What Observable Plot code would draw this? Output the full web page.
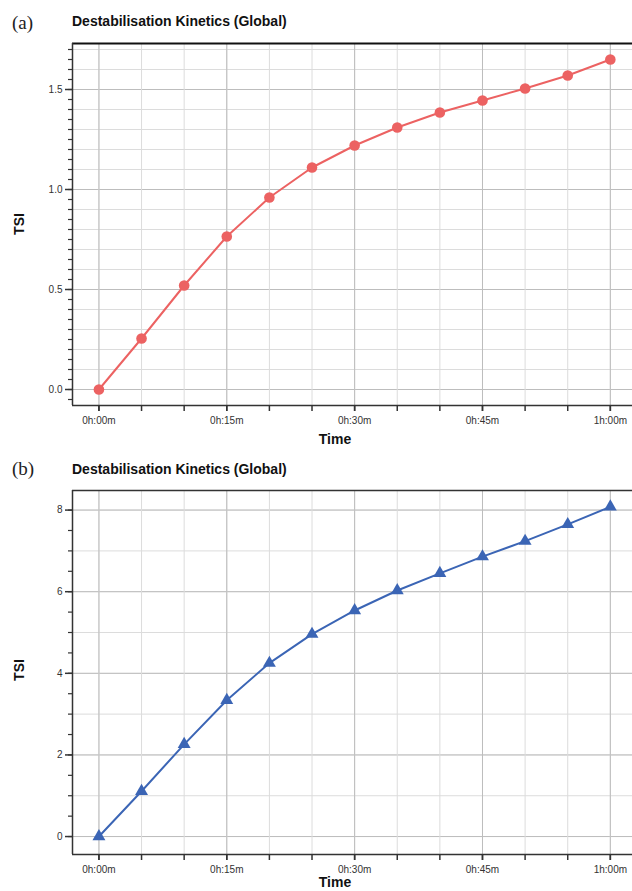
<!DOCTYPE html>
<html><head><meta charset="utf-8">
<script src="https://cdn.jsdelivr.net/npm/d3@7"></script>
<script src="https://cdn.jsdelivr.net/npm/@observablehq/plot@0.6"></script>
<style>
html,body{margin:0;padding:0;overflow:hidden;background:#fff}
#wrap{position:relative;width:632px;height:891px;overflow:hidden;font-family:"Liberation Sans",Arial,sans-serif}
.abs{position:absolute;white-space:nowrap;line-height:1}
.title{font-weight:bold;font-size:14px;color:#111}
.panel{font-family:"Liberation Serif","Times New Roman",serif;font-size:19px;color:#222}
.axt{font-weight:bold;font-size:14px;color:#111}
.rot{transform:translate(-50%,-50%) rotate(-90deg)}
.ctr{transform:translateX(-50%)}
</style></head><body>
<div id="wrap">
<div id="chartA" class="abs" style="left:0;top:0"></div>
<div id="chartB" class="abs" style="left:0;top:450px"></div>
<div class="abs panel" style="left:12px;top:13px">(a)</div>
<div class="abs title" style="left:72px;top:14px">Destabilisation Kinetics (Global)</div>
<div class="abs axt rot" style="left:19px;top:224px">TSI</div>
<div class="abs axt ctr" style="left:335px;top:432px">Time</div>
<div class="abs panel" style="left:12px;top:459px">(b)</div>
<div class="abs title" style="left:72px;top:462px">Destabilisation Kinetics (Global)</div>
<div class="abs axt rot" style="left:19px;top:670px">TSI</div>
<div class="abs axt ctr" style="left:335px;top:875px">Time</div>
</div>
<script>
// data (minutes, TSI)
const times = [0, 5, 10, 15, 20, 25, 30, 35, 40, 45, 50, 55, 60];
const tsiA = [0.00, 0.255, 0.52, 0.765, 0.96, 1.11, 1.22, 1.31, 1.385, 1.445, 1.505, 1.57, 1.65];
const tsiB = [0.00, 1.11, 2.26, 3.34, 4.25, 4.96, 5.54, 6.03, 6.45, 6.86, 7.24, 7.65, 8.08];

// ticks
const xTicks = [0, 5, 10, 15, 20, 25, 30, 35, 40, 45, 50, 55, 60];
const xLabelTicks = [0, 15, 30, 45, 60];
const yMajorA = [0.0, 0.5, 1.0, 1.5];
const yMajorB = [0, 2, 4, 6, 8];

const fmtTime = m => `${Math.floor(m / 60)}h:${String(m % 60).padStart(2, "0")}m`;

function makeChart({values, height, marginTop, marginBottom, yDomain, yMajor, yGrid, yMinor, yFmt, color, symbol, r, topStroke, topWidth}) {
  const data = times.map((t, i) => ({t, v: values[i]}));
  const xDomain = [-3.1, 62.6];
  return Plot.plot({
    width: 632,
    height,
    marginLeft: 72,
    marginRight: 0,
    marginTop,
    marginBottom,
    style: {fontFamily: '"Liberation Sans", Arial, sans-serif', background: "transparent", overflow: "hidden"},
    x: {domain: xDomain, label: null},
    y: {domain: yDomain, label: null},
    marks: [
      Plot.gridY(yGrid, {stroke: "#dcdcdc", strokeOpacity: 1}),
      Plot.gridY(yMajor, {stroke: "#bdbdbd", strokeOpacity: 1}),
      Plot.gridX(xTicks, {stroke: "#dcdcdc", strokeOpacity: 1}),
      Plot.gridX(xLabelTicks, {stroke: "#bdbdbd", strokeOpacity: 1}),
      Plot.ruleY([yDomain[1]], {stroke: topStroke, strokeWidth: topWidth}),
      Plot.ruleX([xDomain[0]], {stroke: "#333", strokeWidth: 1.5}),
      Plot.ruleY([yDomain[0]], {stroke: "#333", strokeWidth: 1.5}),
      Plot.axisY(yMinor, {tickSize: 4, tickFormat: () => "", label: null, color: "#333", strokeWidth: 1.2}),
      Plot.axisY(yMajor, {tickSize: 7, tickPadding: 3, tickFormat: yFmt, label: null, color: "#333", fontSize: 10, strokeWidth: 1.5}),
      Plot.axisX(xTicks, {tickSize: 6, tickFormat: () => "", label: null, color: "#333", strokeWidth: 1.5}),
      Plot.axisX(xLabelTicks, {tickSize: 6, tickPadding: 5, tickFormat: fmtTime, label: null, color: "#333", fontSize: 10, strokeWidth: 1.5}),
      Plot.line(data, {x: "t", y: "v", stroke: color, strokeWidth: 2}),
      Plot.dot(data, {x: "t", y: "v", fill: color, stroke: "none", symbol, r})
    ]
  });
}

document.getElementById("chartA").append(makeChart({
  values: tsiA, height: 450, marginTop: 43, marginBottom: 45,
  yDomain: [-0.08, 1.73], yMajor: yMajorA,
  yGrid: d3.range(0, 17.5).map(d => d / 10),
  yMinor: d3.range(-1, 35).map(d => d / 20),
  yFmt: d3.format(".1f"), color: "#ec6262", symbol: "circle", r: 5.3,
  topStroke: "#111", topWidth: 2
}));

document.getElementById("chartB").append(makeChart({
  values: tsiB, height: 441, marginTop: 40, marginBottom: 37,
  yDomain: [-0.44, 8.48], yMajor: yMajorB,
  yGrid: d3.range(0, 9),
  yMinor: d3.range(0, 17).map(d => d / 2),
  yFmt: d3.format("d"), color: "#3b65b5", symbol: "triangle", r: 4.8,
  topStroke: "#333", topWidth: 1.5
}));
</script>
</body></html>
